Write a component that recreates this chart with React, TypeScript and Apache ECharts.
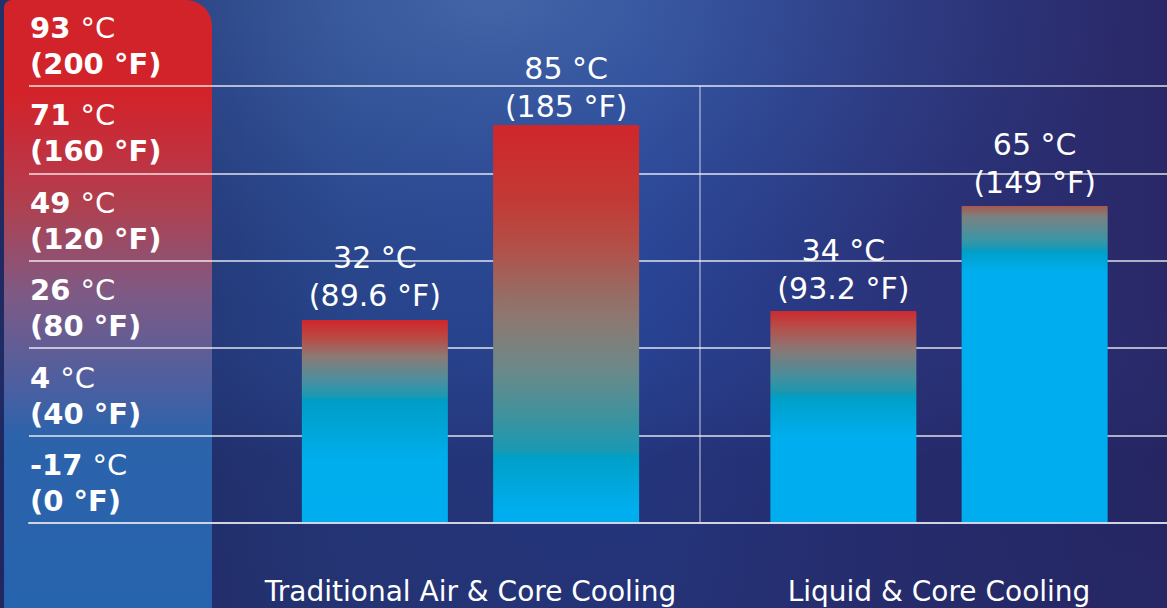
import React, { useEffect, useRef } from "react";
import * as echarts from "echarts";

const categories = ["Traditional Air & Core Cooling", "Liquid & Core Cooling"];
// bar tops as plotted on the °F scale (0 at baseline, 200 at top grid line)
const firstBarValues = [92.9, 97.0];
const secondBarValues = [182.2, 145.1];
const firstBarLabels = ["32 °C\n(89.6 °F)", "34 °C\n(93.2 °F)"];
const secondBarLabels = ["85 °C\n(185 °F)", "65 °C\n(149 °F)"];
const tickValuesF = [0, 40, 80, 120, 160, 200];
const tickLabelsC = ["-17", "4", "26", "49", "71", "93"];
const tickLabelsF = ["0", "40", "80", "120", "160", "200"];

const FONT = "'DejaVu Sans', 'Open Sans', sans-serif";

type Stop = [number, string];
const firstBarStops: Stop[][] = [
  [[0, "#cf262c"], [0.08, "#bd4640"], [0.18, "#8c7a74"], [0.3, "#4a90a0"], [0.385, "#159ab6"], [0.39, "#009dc5"], [0.7, "#00aeee"], [1, "#00aeef"]],
  [[0, "#cc2a2e"], [0.08, "#b5504a"], [0.18, "#8a7776"], [0.33, "#3a92a2"], [0.395, "#1497b4"], [0.4, "#009fc6"], [0.6, "#00aeef"], [1, "#00aeef"]],
];
const secondBarStops: Stop[][] = [
  [[0, "#d0262b"], [0.19, "#c23a35"], [0.31, "#b25048"], [0.44, "#937068"], [0.5, "#8a7a73"], [0.62, "#6a8a8a"], [0.74, "#3a939f"], [0.825, "#169ab6"], [0.83, "#009fc6"], [0.97, "#00aeef"], [1, "#00aeef"]],
  [[0, "#a8584f"], [0.035, "#7a8282"], [0.107, "#3a96a6"], [0.135, "#1a98b5"], [0.14, "#009fc6"], [0.21, "#00aeef"], [1, "#00aeef"]],
];
const firstLabelGaps = [6, 4];
const secondLabelGaps = [-1, 4];

function grad(stops: Stop[]) {
  return new echarts.graphic.LinearGradient(
    0, 0, 0, 1,
    stops.map(([offset, color]) => ({ offset, color }))
  );
}

export default function App() {
  const ref = useRef<HTMLDivElement>(null);
  useEffect(() => {
    document.body.style.margin = "0";
    if (!ref.current) return;
    const chart = echarts.init(ref.current, null, { renderer: "svg" });
    const labelStyle = {
      color: "#ffffff",
      fontFamily: FONT,
      fontSize: 30,
      fontWeight: "normal",
      lineHeight: 38,
    };
    chart.setOption({
      animation: false,
      graphic: [
        {
          type: "rect",
          z: -20,
          shape: { x: 0, y: 0, width: 1167, height: 608 },
          style: {
            fill: new echarts.graphic.LinearGradient(0, 0, 1, 0, [
              { offset: 0, color: "#1f2a62" },
              { offset: 0.3, color: "#27448a" },
              { offset: 0.55, color: "#284394" },
              { offset: 0.78, color: "#2a3278" },
              { offset: 1, color: "#2a2868" },
            ]),
          },
        },
        {
          type: "rect",
          z: -19,
          shape: { x: 0, y: 0, width: 1167, height: 608 },
          style: {
            fill: new echarts.graphic.RadialGradient(0.42, 0, 0.55, [
              { offset: 0, color: "rgba(95,135,190,0.5)" },
              { offset: 0.6, color: "rgba(70,110,180,0.18)" },
              { offset: 1, color: "rgba(60,90,160,0)" },
            ]),
          },
        },
        {
          type: "rect",
          z: -19,
          shape: { x: 0, y: 0, width: 1167, height: 608 },
          style: {
            fill: new echarts.graphic.LinearGradient(0, 0, 0, 1, [
              { offset: 0, color: "rgba(40,60,130,0)" },
              { offset: 0.5, color: "rgba(40,60,130,0)" },
              { offset: 0.75, color: "rgba(30,32,90,0.4)" },
              { offset: 1, color: "rgba(34,38,96,0.55)" },
            ]),
          },
        },
        {
          type: "rect",
          z: -18,
          shape: { x: 4, y: 0, width: 208, height: 640, r: [8, 26, 0, 0] },
          style: {
            fill: new echarts.graphic.LinearGradient(0, 0, 0, 1, [
              { offset: 0, color: "#d2232a" },
              { offset: 0.15, color: "#d2232a" },
              { offset: 0.27, color: "#bb3646" },
              { offset: 0.32, color: "#b0404f" },
              { offset: 0.46, color: "#7e5a85" },
              { offset: 0.6, color: "#4d5fa0" },
              { offset: 0.68, color: "#2c63ab" },
              { offset: 1, color: "#2563ae" },
            ]),
          },
        },
        {
          type: "line",
          z: 1,
          shape: { x1: 700, y1: 86, x2: 700, y2: 523 },
          style: { stroke: "rgba(255,255,255,0.75)", lineWidth: 1 },
        },
      ],
      grid: [
        { left: 29, right: 0, top: 86, bottom: 85 },
        { left: 470.5, right: 228, top: 86, bottom: 85 },
      ],
      xAxis: [
        {
          gridIndex: 0,
          type: "category",
          data: [""],
          z: 5,
          axisLine: { show: true, lineStyle: { color: "#cfd3e2", width: 2 } },
          axisTick: { show: false },
          axisLabel: { show: false },
          splitLine: { show: false },
        },
        {
          gridIndex: 1,
          type: "category",
          data: categories,
          boundaryGap: false,
          axisLine: { show: false },
          axisTick: { show: false },
          splitLine: { show: false },
          axisLabel: {
            color: "#ffffff",
            fontFamily: FONT,
            fontSize: 28,
            fontWeight: "normal",
            margin: 54,
            verticalAlign: "top",
            lineHeight: 28,
            interval: 0,
          },
        },
      ],
      yAxis: [
        {
          gridIndex: 0,
          type: "value",
          min: 0,
          max: 200,
          interval: 40,
          axisLine: { show: false },
          axisTick: { show: false },
          splitLine: { show: true, lineStyle: { color: "rgba(255,255,255,0.85)", width: 1.5 } },
          axisLabel: {
            inside: true,
            margin: 1,
            align: "left",
            verticalAlign: "bottom",
            padding: [0, 0, 4, 0],
            formatter: (v: number) => {
              const i = tickValuesF.indexOf(v);
              if (i < 0) return "";
              return `{b|${tickLabelsC[i]} }{u|°C}\n{b|(${tickLabelsF[i]} °F)}`;
            },
            rich: {
              b: { color: "#fff", fontFamily: FONT, fontSize: 29, fontWeight: "bold", lineHeight: 36 },
              u: { color: "#fff", fontFamily: FONT, fontSize: 29, fontWeight: "normal", lineHeight: 36 },
            },
          },
        },
        {
          gridIndex: 1,
          type: "value",
          min: 0,
          max: 200,
          interval: 40,
          show: false,
          splitLine: { show: false },
        },
      ],
      series: [
        {
          name: "Bar 1",
          type: "bar",
          xAxisIndex: 1,
          yAxisIndex: 1,
          clip: false,
          barWidth: 146,
          barGap: "31%",
          data: firstBarValues.map((v, i) => ({
            value: v,
            itemStyle: { color: grad(firstBarStops[i]) },
            label: { formatter: firstBarLabels[i], distance: firstLabelGaps[i] },
          })),
          label: { show: true, position: "top", ...labelStyle },
        },
        {
          name: "Bar 2",
          type: "bar",
          xAxisIndex: 1,
          yAxisIndex: 1,
          clip: false,
          barWidth: 146,
          barGap: "31%",
          data: secondBarValues.map((v, i) => ({
            value: v,
            itemStyle: { color: grad(secondBarStops[i]) },
            label: { formatter: secondBarLabels[i], distance: secondLabelGaps[i] },
          })),
          label: { show: true, position: "top", ...labelStyle },
        },
      ],
    });
    return () => chart.dispose();
  }, []);
  return <div ref={ref} style={{ width: 1167, height: 608 }} />;
}
